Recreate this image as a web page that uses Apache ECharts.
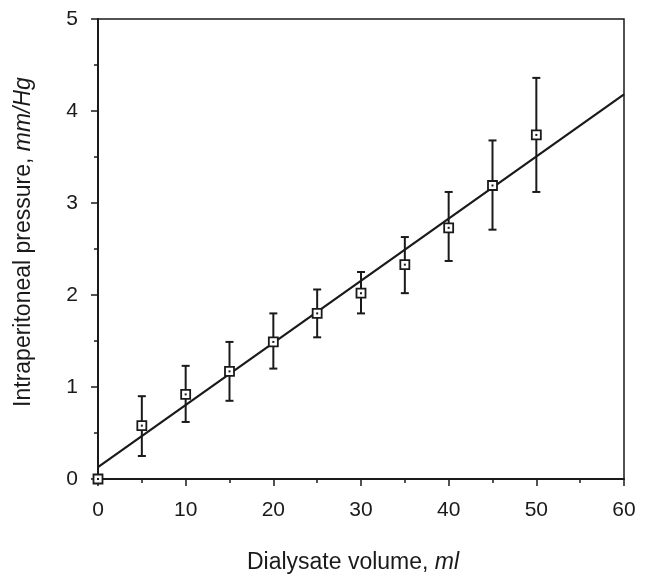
<!DOCTYPE html>
<html>
<head>
<meta charset="utf-8">
<script src="https://cdn.jsdelivr.net/npm/echarts@6/dist/echarts.min.js"></script>
<style>html,body{margin:0;padding:0;background:#fff}#c{width:654px;height:576px}</style>
</head>
<body>
<div id="c"></div>
<script>
var volumes = [0, 5, 10, 15, 20, 25, 30, 35, 40, 45, 50];
var pressures = [0, 0.58, 0.92, 1.17, 1.49, 1.80, 2.02, 2.33, 2.73, 3.19, 3.74];
var errLow = [null, 0.25, 0.62, 0.85, 1.20, 1.54, 1.80, 2.02, 2.37, 2.71, 3.12];
var errHigh = [null, 0.90, 1.23, 1.49, 1.80, 2.06, 2.25, 2.63, 3.12, 3.68, 4.36];
var fitX = [0, 60];
var fitY = [0.13, 4.18];

var INK = '#1a1a1a';
var FONT = 'Liberation Sans, Arial, sans-serif';

var pts = volumes.map(function (v, i) { return [v, pressures[i]]; });
var errData = [];
volumes.forEach(function (v, i) {
  if (errLow[i] != null) errData.push([v, errLow[i], errHigh[i]]);
});
var fitData = fitX.map(function (v, i) { return [v, fitY[i]]; });

var chart = echarts.init(document.getElementById('c'), null, {renderer: 'canvas'});
chart.setOption({
  backgroundColor: '#fff',
  animation: false,
  grid: {left: 98, right: 30, top: 19, bottom: 97, show: true, borderColor: INK, borderWidth: 1.5, backgroundColor: 'transparent'},
  xAxis: {
    type: 'value', min: 0, max: 60, interval: 10,
    axisLine: {lineStyle: {color: INK, width: 2}},
    axisTick: {show: true, inside: false, length: 7, lineStyle: {color: INK, width: 1.5}},
    minorTick: {show: true, splitNumber: 2, length: 4, lineStyle: {color: INK, width: 1.5}},
    splitLine: {show: false},
    axisLabel: {color: INK, fontSize: 21, fontFamily: FONT, margin: 21}
  },
  yAxis: {
    type: 'value', min: 0, max: 5, interval: 1,
    axisLine: {show: true, lineStyle: {color: INK, width: 2}},
    axisTick: {show: true, inside: false, length: 7, lineStyle: {color: INK, width: 1.5}},
    minorTick: {show: true, splitNumber: 2, length: 4, lineStyle: {color: INK, width: 1.5}},
    splitLine: {show: false},
    axisLabel: {color: INK, fontSize: 21, fontFamily: FONT, margin: 20}
  },
  graphic: [
    {
      type: 'text', x: 24, y: 242, rotation: Math.PI / 2,
      style: {
        text: 'Intraperitoneal pressure, {i|mm/Hg}',
        font: '23px ' + FONT, fill: INK, align: 'center', verticalAlign: 'middle',
        rich: {i: {fontStyle: 'italic', fontSize: 23, fontFamily: FONT, fill: INK, color: INK}}
      }
    },
    {
      type: 'text', x: 353, y: 563,
      style: {
        text: 'Dialysate volume, {i|ml}',
        font: '23px ' + FONT, fill: INK, align: 'center', verticalAlign: 'middle',
        rich: {i: {fontStyle: 'italic', fontSize: 23, fontFamily: FONT, fill: INK, color: INK}}
      }
    }
  ],
  series: [
    {
      type: 'line', data: fitData, symbol: 'none', z: 2,
      lineStyle: {color: INK, width: 2.2}
    },
    {
      type: 'custom', z: 3,
      data: errData,
      renderItem: function (params, api) {
        var x = api.value(0);
        var lo = api.coord([x, api.value(1)]);
        var hi = api.coord([x, api.value(2)]);
        var hw = 4;
        var st = {stroke: INK, lineWidth: 2, fill: null};
        return {
          type: 'group',
          children: [
            {type: 'line', shape: {x1: lo[0], y1: lo[1], x2: hi[0], y2: hi[1]}, style: st},
            {type: 'line', shape: {x1: lo[0] - hw, y1: lo[1], x2: lo[0] + hw, y2: lo[1]}, style: st},
            {type: 'line', shape: {x1: hi[0] - hw, y1: hi[1], x2: hi[0] + hw, y2: hi[1]}, style: st}
          ]
        };
      }
    },
    {
      type: 'scatter', data: pts, symbol: 'rect', symbolSize: 9, z: 4,
      itemStyle: {color: '#fff', borderColor: INK, borderWidth: 1.8, opacity: 1}
    },
    {
      type: 'scatter', data: pts, symbol: 'rect', symbolSize: 2, z: 5,
      itemStyle: {color: INK, opacity: 1}
    }
  ]
});
</script>
</body>
</html>
